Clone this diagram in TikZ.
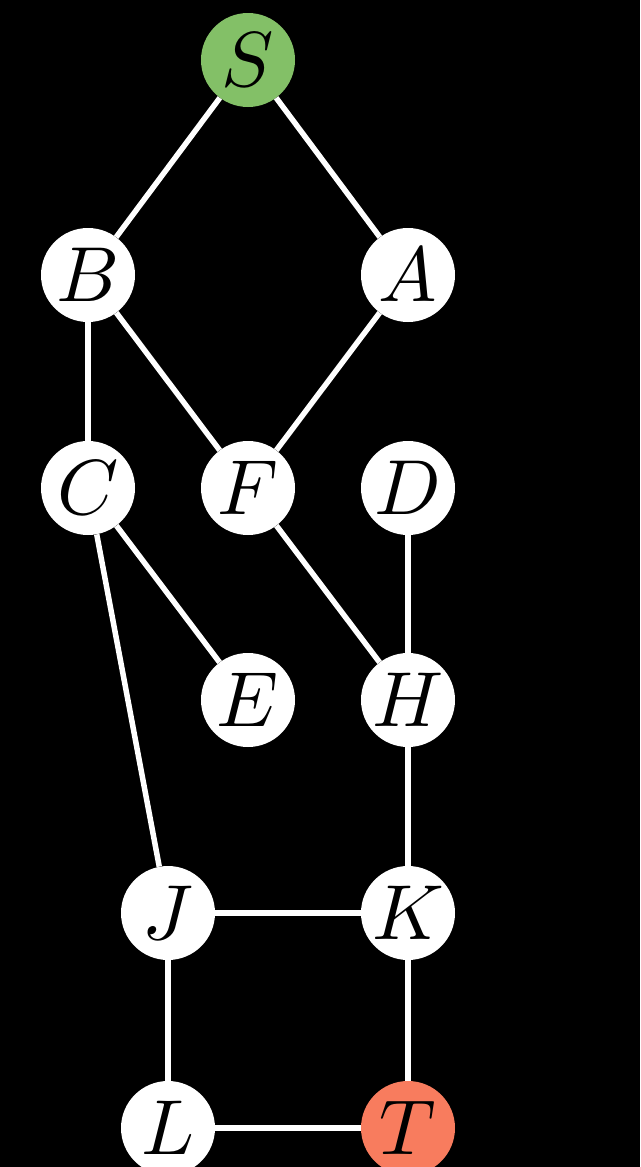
\documentclass[tikz,border=0pt]{standalone}
\usepackage{graphicx}
\definecolor{sgreen}{RGB}{131,192,103}
\definecolor{tred}{RGB}{248,124,94}
\newcommand{\vlab}[1]{\scalebox{7.8}{$#1$}}
\tikzset{
  vert/.style={circle, fill=white, minimum size=94pt, inner sep=0pt, text=black},
  edge/.style={draw=white, line width=5.5pt}
}
\begin{document}
\begin{tikzpicture}[x=1pt,y=-1pt]
\fill[black] (0,0) rectangle (640,1167);
\useasboundingbox (0,0) rectangle (640,1167);
\node[vert, fill=sgreen] (S) at (248,60) {\vlab{S}};
\node[vert] (B) at (88,275) {\vlab{B}};
\node[vert] (A) at (408,275) {\vlab{A}};
\node[vert] (C) at (88,488) {\vlab{C}};
\node[vert] (F) at (248,488) {\vlab{F}};
\node[vert] (D) at (408,488) {\vlab{D}};
\node[vert] (E) at (248,700) {\vlab{E}};
\node[vert] (H) at (408,700) {\vlab{H}};
\node[vert] (J) at (168,913) {\vlab{J}};
\node[vert] (K) at (408,913) {\vlab{K}};
\node[vert] (L) at (168,1128) {\vlab{L}};
\node[vert, fill=tred] (T) at (408,1128) {\vlab{T}};
\draw[edge] (S) -- (B);
\draw[edge] (S) -- (A);
\draw[edge] (B) -- (C);
\draw[edge] (B) -- (F);
\draw[edge] (A) -- (F);
\draw[edge] (C) -- (E);
\draw[edge] (C) -- (J);
\draw[edge] (F) -- (H);
\draw[edge] (D) -- (H);
\draw[edge] (H) -- (K);
\draw[edge] (J) -- (K);
\draw[edge] (J) -- (L);
\draw[edge] (K) -- (T);
\draw[edge] (L) -- (T);
\end{tikzpicture}
\end{document}
